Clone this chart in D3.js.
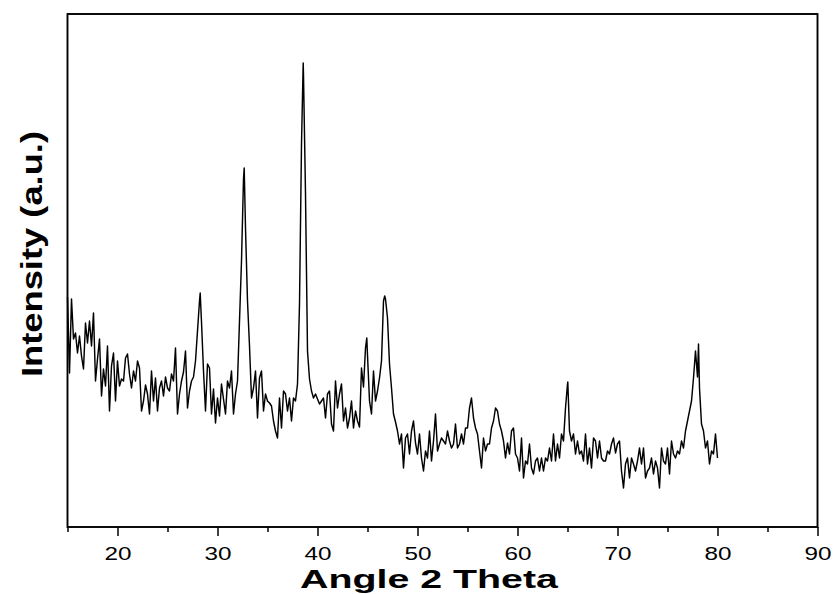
<!DOCTYPE html>
<html><head><meta charset="utf-8">
<script src="https://cdn.jsdelivr.net/npm/d3@7"></script>
<style>body{margin:0;background:#fff}</style>
</head><body>
<svg id="chart" width="834" height="594"></svg>
<script>
// ---- data ----
const scanStart = 15.0;
const scanStep = 0.2;
const intensity = [
230,154,228,188,194,174,191,171,158,204,
184,206,181,214,146,168,188,131,158,141,
181,116,161,174,126,166,141,148,146,169,
173,153,139,156,146,166,159,116,126,142,
133,113,156,126,149,116,139,146,131,150,
139,136,153,146,179,113,133,146,155,176,
119,136,146,150,166,196,226,205,156,116,
163,159,113,138,104,129,111,143,128,113,
146,139,156,113,133,146,206,266,348,299,
226,181,129,139,156,109,149,156,116,133,
126,124,121,106,96,89,129,99,136,133,
116,129,106,129,126,143,223,383,452,333,
176,148,136,129,133,128,123,126,129,109,
133,136,103,96,146,119,133,143,106,119,
99,109,126,99,116,106,100,159,140,179,
172,126,113,156,126,136,149,166,226,228,
209,163,139,113,105,96,83,93,59,89,
93,73,96,106,84,73,93,69,56,76,
69,96,66,86,113,76,83,89,86,83,
96,86,79,83,103,79,83,93,83,99,
99,119,129,109,99,93,76,59,89,76,
83,83,99,106,119,116,103,96,86,69,
84,73,96,99,73,69,56,89,49,66,
63,83,59,53,66,69,56,69,56,69,
66,79,66,93,66,83,69,93,86,119,
143,96,86,93,73,86,73,76,66,93,
63,79,59,89,86,69,86,69,66,66,
76,73,83,89,74,83,86,56,39,63,
69,49,69,63,56,66,79,63,79,49,
56,59,69,53,66,59,39,79,66,63,
79,53,86,73,69,76,73,86,79,96,
106,116,126,149,176,150,139,103,96,79,
86,63,76,73,93,69
];
// peak apex points between scan steps: [2theta, intensity]
const peakApex = [[28.27,234],[32.67,359],[38.57,464],[44.93,189],[46.72,231],[65.03,145],[78.1,183]];
const xDomain = [15, 90];
const yDomain = [0, 513];
const xTicks = [20, 30, 40, 50, 60, 70, 80, 90];
const xMinorTicks = [15, 25, 35, 45, 55, 65, 75, 85];
const xLabel = "Angle 2 Theta";
const yLabel = "Intensity (a.u.)";

// ---- layout ----
const W = 834, H = 594;
const m = {left: 67.5, right: 16.5, top: 14, bottom: 67};
const svg = d3.select("#chart");
const x = d3.scaleLinear().domain(xDomain).range([m.left, W - m.right]);
const y = d3.scaleLinear().domain(yDomain).range([H - m.bottom, m.top]);

const series = intensity.map((v, i) => ({a: +(scanStart + i * scanStep).toFixed(2), v}))
  .concat(peakApex.map(([a, v]) => ({a, v})))
  .sort((p, q) => p.a - q.a);

// trace
svg.append("path")
  .datum(series)
  .attr("fill", "none")
  .attr("stroke", "#000")
  .attr("stroke-width", 1.45)
  .attr("stroke-linejoin", "round")
  .attr("d", d3.line().x(d => x(d.a)).y(d => y(d.v)));

// minor ticks
svg.append("g")
  .attr("transform", `translate(0,${H - m.bottom})`)
  .call(d3.axisBottom(x).tickValues(xMinorTicks).tickSize(5).tickFormat(""))
  .call(g => g.select(".domain").remove())
  .call(g => g.selectAll("line").attr("stroke", "#000").attr("stroke-width", 1.5));

// major ticks + labels
const ax = svg.append("g")
  .attr("transform", `translate(0,${H - m.bottom})`)
  .call(d3.axisBottom(x).tickValues(xTicks).tickSize(9).tickFormat(d3.format("d")))
  .call(g => g.select(".domain").remove());
ax.selectAll("line").attr("stroke", "#000").attr("stroke-width", 1.5);
ax.selectAll("text")
  .attr("y", 19.5).attr("dy", "0.71em")
  .attr("fill", "#000")
  .attr("font-family", "Liberation Sans, Arial, sans-serif")
  .attr("font-size", 19)
  .attr("textLength", 27).attr("lengthAdjust", "spacingAndGlyphs");

// frame
svg.append("rect")
  .attr("x", m.left).attr("y", m.top)
  .attr("width", W - m.left - m.right).attr("height", H - m.top - m.bottom)
  .attr("fill", "none").attr("stroke", "#000").attr("stroke-width", 1.9);

// axis titles
svg.append("text")
  .attr("x", 429).attr("y", 588.2)
  .attr("text-anchor", "middle")
  .attr("font-family", "Liberation Sans, Arial, sans-serif")
  .attr("font-weight", "bold").attr("font-size", 26.5)
  .attr("textLength", 258).attr("lengthAdjust", "spacingAndGlyphs")
  .text(xLabel);

svg.append("text")
  .attr("transform", "translate(42,254) rotate(-90)")
  .attr("text-anchor", "middle")
  .attr("font-family", "Liberation Sans, Arial, sans-serif")
  .attr("font-weight", "bold").attr("font-size", 29)
  .attr("textLength", 246).attr("lengthAdjust", "spacingAndGlyphs")
  .text(yLabel);
</script>
</body></html>
